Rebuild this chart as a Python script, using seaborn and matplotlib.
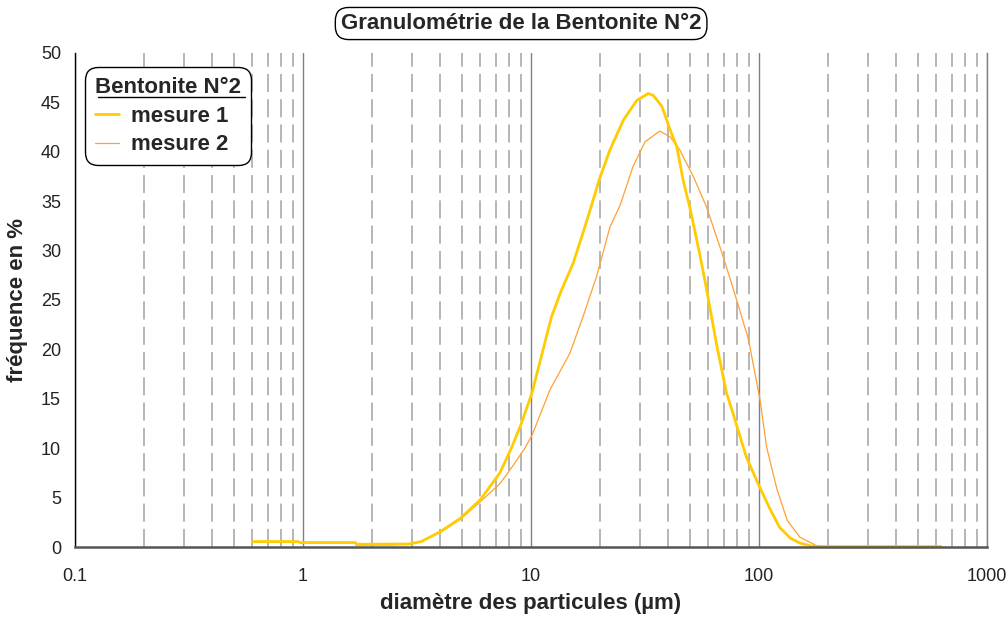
import numpy as np
import pandas as pd
import matplotlib
matplotlib.use("Agg")
import matplotlib.pyplot as plt
import matplotlib.ticker as mticker
from matplotlib.lines import Line2D
import seaborn as sns

# Particle-size distribution of bentonite sample N°2 (two measurements)
diam_m1 = [0.6, 0.95, 0.97, 1.7, 1.72, 2.9, 3.3, 4.0, 4.9, 6.0, 7.3, 8.2, 9.0,
           10.1, 11.1, 12.3, 13.6, 15.3, 16.9, 18.1, 20.0, 22.2, 25.4, 29.1,
           32.7, 34.4, 37.5, 40.8, 43.6, 46.5, 49.8, 55, 59, 65, 72, 76, 88,
           100, 112, 123, 137, 151, 170, 190, 210, 630]
freq_m1 = [0.55, 0.55, 0.45, 0.45, 0.28, 0.3, 0.55, 1.55, 2.9, 4.8, 7.5, 10.0,
           12.3, 15.6, 19.3, 23.3, 26.0, 28.7, 31.8, 34.0, 37.3, 40.2, 43.2,
           45.2, 45.9, 45.7, 44.6, 42.2, 40.5, 37.1, 34.3, 29.6, 26.0, 20.6,
           15.6, 13.9, 9.1, 6.2, 3.8, 2.0, 0.9, 0.4, 0.1, 0.05, 0.05, 0.05]

diam_m2 = [1.7, 2.4, 2.9, 3.3, 4.0, 4.9, 6.0, 7.3, 8.2, 9.4, 10.1, 12.1, 14.8,
           16.9, 19.4, 22.2, 24.6, 28.0, 31.6, 36.7, 40.8, 44.9, 51.5, 58.9,
           69.6, 79.8, 89.9, 101, 108, 120, 133, 151, 180, 200]
freq_m2 = [0.2, 0.2, 0.3, 0.55, 1.5, 2.8, 4.6, 6.4, 8.0, 10.0, 11.3, 15.9,
           19.6, 23.3, 27.4, 32.4, 34.6, 38.5, 41.0, 42.1, 41.5, 40.2, 37.5,
           34.4, 29.4, 25.0, 21.0, 14.9, 10.1, 5.8, 2.7, 1.0, 0.1, 0.05]

series_names = ["mesure 1", "mesure 2"]
x_tick_values = [0.1, 1, 10, 100, 1000]
x_tick_labels = ["0.1", "1", "10", "100", "1000"]
y_tick_values = list(range(0, 51, 5))

sns.set_style("white")
plt.rcParams["font.family"] = ["Liberation Sans", "DejaVu Sans"]

df1 = pd.DataFrame({"diam": diam_m1, "freq": freq_m1, "serie": series_names[0]})
df2 = pd.DataFrame({"diam": diam_m2, "freq": freq_m2, "serie": series_names[1]})

fig = plt.figure(figsize=(10.08, 6.19), dpi=100)
ax = fig.add_axes([0.0744, 0.1163, 0.9048, 0.7981])

sns.lineplot(data=df2, x="diam", y="freq", ax=ax, color="#FFA033",
             linewidth=0.9, estimator=None, sort=False, label=series_names[1])
sns.lineplot(data=df1, x="diam", y="freq", ax=ax, color="#FFCC00",
             linewidth=2.0, estimator=None, sort=False, label=series_names[0])
for ln in ax.get_lines():
    ln.set_solid_joinstyle("round")
    ln.set_solid_capstyle("round")

ax.set_xscale("log")
ax.set_xlim(0.1, 1000)
ax.set_ylim(0, 50)
ax.set_xticks(x_tick_values)
ax.set_xticklabels(x_tick_labels)
ax.xaxis.set_minor_locator(mticker.LogLocator(base=10, subs=np.arange(2, 10)))
ax.xaxis.set_minor_formatter(mticker.NullFormatter())
ax.set_yticks(y_tick_values)

ax.grid(which="major", axis="x", color="#808080", linewidth=1.0, linestyle="-")
ax.grid(which="minor", axis="x", color="#b0b0b0", linewidth=1.3,
        linestyle=(0, (10, 4)))
ax.grid(which="both", axis="y", visible=False)

ax.tick_params(axis="both", which="both", direction="out", length=5,
               width=1, color="#333333", labelsize=13, labelcolor="#222222")
ax.tick_params(axis="x", which="major", pad=10)
ax.tick_params(axis="y", which="major", pad=5)

ax.spines["top"].set_visible(False)
ax.spines["right"].set_color("#808080")
ax.spines["right"].set_linewidth(1.0)
ax.spines["left"].set_color("#000000")
ax.spines["left"].set_linewidth(1.0)
ax.spines["bottom"].set_color("#555555")
ax.spines["bottom"].set_linewidth(1.8)

ax.set_xlabel("diamètre des particules (µm)", fontsize=16, fontweight="bold",
              labelpad=6)
ax.set_ylabel("fréquence en %", fontsize=16, fontweight="bold", labelpad=9)

handles = [Line2D([], [], color="#FFCC00", linewidth=2.0),
           Line2D([], [], color="#FFA033", linewidth=0.9)]
leg = ax.legend(handles, series_names, title="Bentonite N°2",
                loc="upper left", bbox_to_anchor=(0.011, 0.972),
                frameon=True, fancybox=True, edgecolor="black",
                framealpha=1, fontsize=16, handlelength=1.1,
                handletextpad=0.5, labelspacing=0.35, borderpad=0.45,
                borderaxespad=0, alignment="left")
leg.get_frame().set_linewidth(1.0)
leg.get_frame().set_boxstyle("round,pad=0,rounding_size=0.6")
leg.get_title().set_fontweight("bold")
leg.get_title().set_fontsize(16)
for t in leg.get_texts():
    t.set_fontweight("bold")
leg.set_zorder(10)
ax.plot([0.025, 0.186], [0.911, 0.911], transform=ax.transAxes, color="black",
        linewidth=1.0, clip_on=False, zorder=11)

fig.text(0.517, 0.962, "Granulométrie de la Bentonite N°2", ha="center",
         va="center", fontsize=16, fontweight="bold",
         bbox=dict(boxstyle="round,pad=0.25,rounding_size=0.6", fc="white",
                   ec="black", lw=1.0))

fig.savefig("out.png", dpi=100, facecolor="white")
